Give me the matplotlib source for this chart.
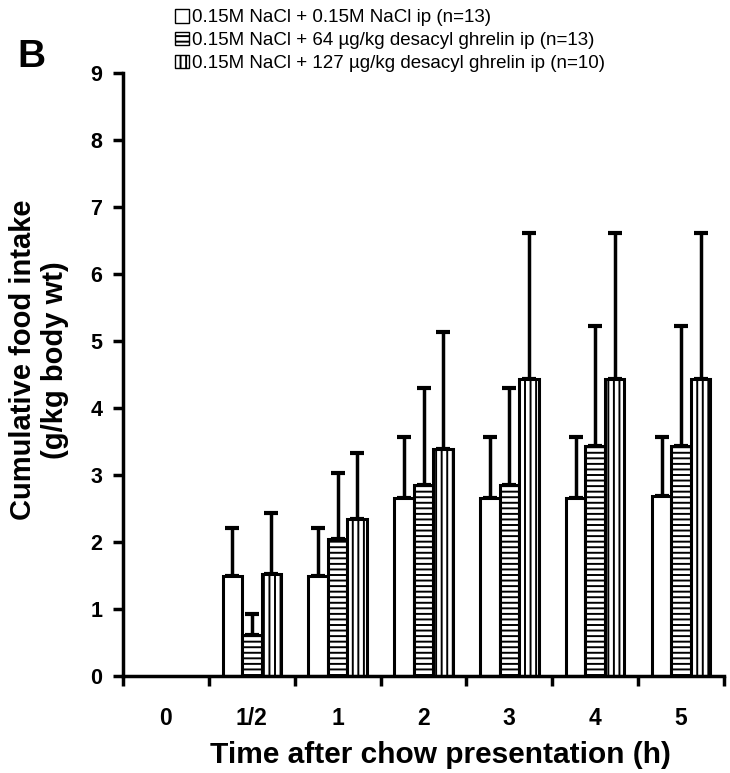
import numpy as np
import matplotlib
matplotlib.use("Agg")
from matplotlib import pyplot as plt
from matplotlib.patches import Patch

times = ["0", "1/2", "1", "2", "3", "4", "5"]
labels = ["0.15M NaCl + 0.15M NaCl ip (n=13)",
          "0.15M NaCl + 64 \u00b5g/kg desacyl ghrelin ip (n=13)",
          "0.15M NaCl + 127 \u00b5g/kg desacyl ghrelin ip (n=10)"]

saline = [0, 1.50, 1.50, 2.66, 2.66, 2.66, 2.68]
saline_err = [0, 0.71, 0.71, 0.91, 0.91, 0.91, 0.89]
dag64 = [0, 0.61, 2.04, 2.85, 2.85, 3.43, 3.43]
dag64_err = [0, 0.32, 0.99, 1.45, 1.45, 1.79, 1.79]
dag127 = [0, 1.52, 2.34, 3.39, 4.43, 4.43, 4.43]
dag127_err = [0, 0.92, 0.99, 1.74, 2.18, 2.18, 2.18]

plt.rcParams['font.family'] = ['Liberation Sans', 'DejaVu Sans']
plt.rcParams['hatch.linewidth'] = 1.4

fig = plt.figure(figsize=(7.3, 7.73), dpi=100)
ax = fig.add_axes([123 / 730, 97 / 773, 601 / 730, 603 / 773])

x = np.arange(len(times))
w = 0.227
series = [(saline, saline_err, ""), (dag64, dag64_err, "---"), (dag127, dag127_err, "|||")]
for i, (vals, errs, hatch) in enumerate(series):
    # time 0 has no intake: leave it empty like the original
    vals = np.array(vals, dtype=float)
    errs = np.array(errs, dtype=float)
    keep = vals > 0
    pos = x[keep] + (i - 1) * w
    ax.bar(pos, vals[keep], w, color="white", edgecolor="black", linewidth=2.2, hatch=hatch, zorder=2)
    ax.errorbar(pos, vals[keep], yerr=[np.zeros(keep.sum()), errs[keep]], fmt="none", ecolor="black",
                elinewidth=2.5, capsize=5, capthick=3, zorder=1)

ax.set_xlim(-0.5, len(times) - 0.5)
ax.set_ylim(0, 9)
ax.set_yticks(range(10))
ax.set_xticks(np.arange(len(times) + 1) - 0.5)
ax.set_xticklabels([])
ax.set_xticks(x, minor=True)
ax.set_xticklabels(times, minor=True, fontsize=16.5, fontweight="bold")
ax.tick_params(axis="x", which="minor", length=0, pad=22)
ax.tick_params(axis="x", which="major", length=7, width=2.5, direction="out")
ax.tick_params(axis="y", length=7, width=2.5, direction="out", labelsize=15.5, pad=8)
for t in ax.get_yticklabels():
    t.set_fontweight("bold")
for s in ["top", "right"]:
    ax.spines[s].set_visible(False)
for s in ["left", "bottom"]:
    ax.spines[s].set_linewidth(2.5)

ax.set_xlabel("Time after chow presentation (h)", fontsize=21.5, fontweight="bold")
ax.xaxis.set_label_coords(0.529, -0.108)
ax.set_ylabel("Cumulative food intake\n(g/kg body wt)", fontsize=21, fontweight="bold")
ax.yaxis.set_label_coords(-0.090, 0.524)

handles = [Patch(facecolor="white", edgecolor="black", linewidth=1, hatch=h) for h in ["", "---", "|||"]]
fig.legend(handles, labels, loc="upper left", bbox_to_anchor=(166 / 730, 1.0), frameon=False,
           fontsize=13.5, handlelength=0.7, handleheight=0.7, handletextpad=0.2, labelspacing=0.3,
           borderaxespad=0.1)

fig.text(17 / 730, 1 - 67 / 773, "B", fontsize=28, fontweight="bold", va="baseline")

fig.savefig("out.png", dpi=100)
